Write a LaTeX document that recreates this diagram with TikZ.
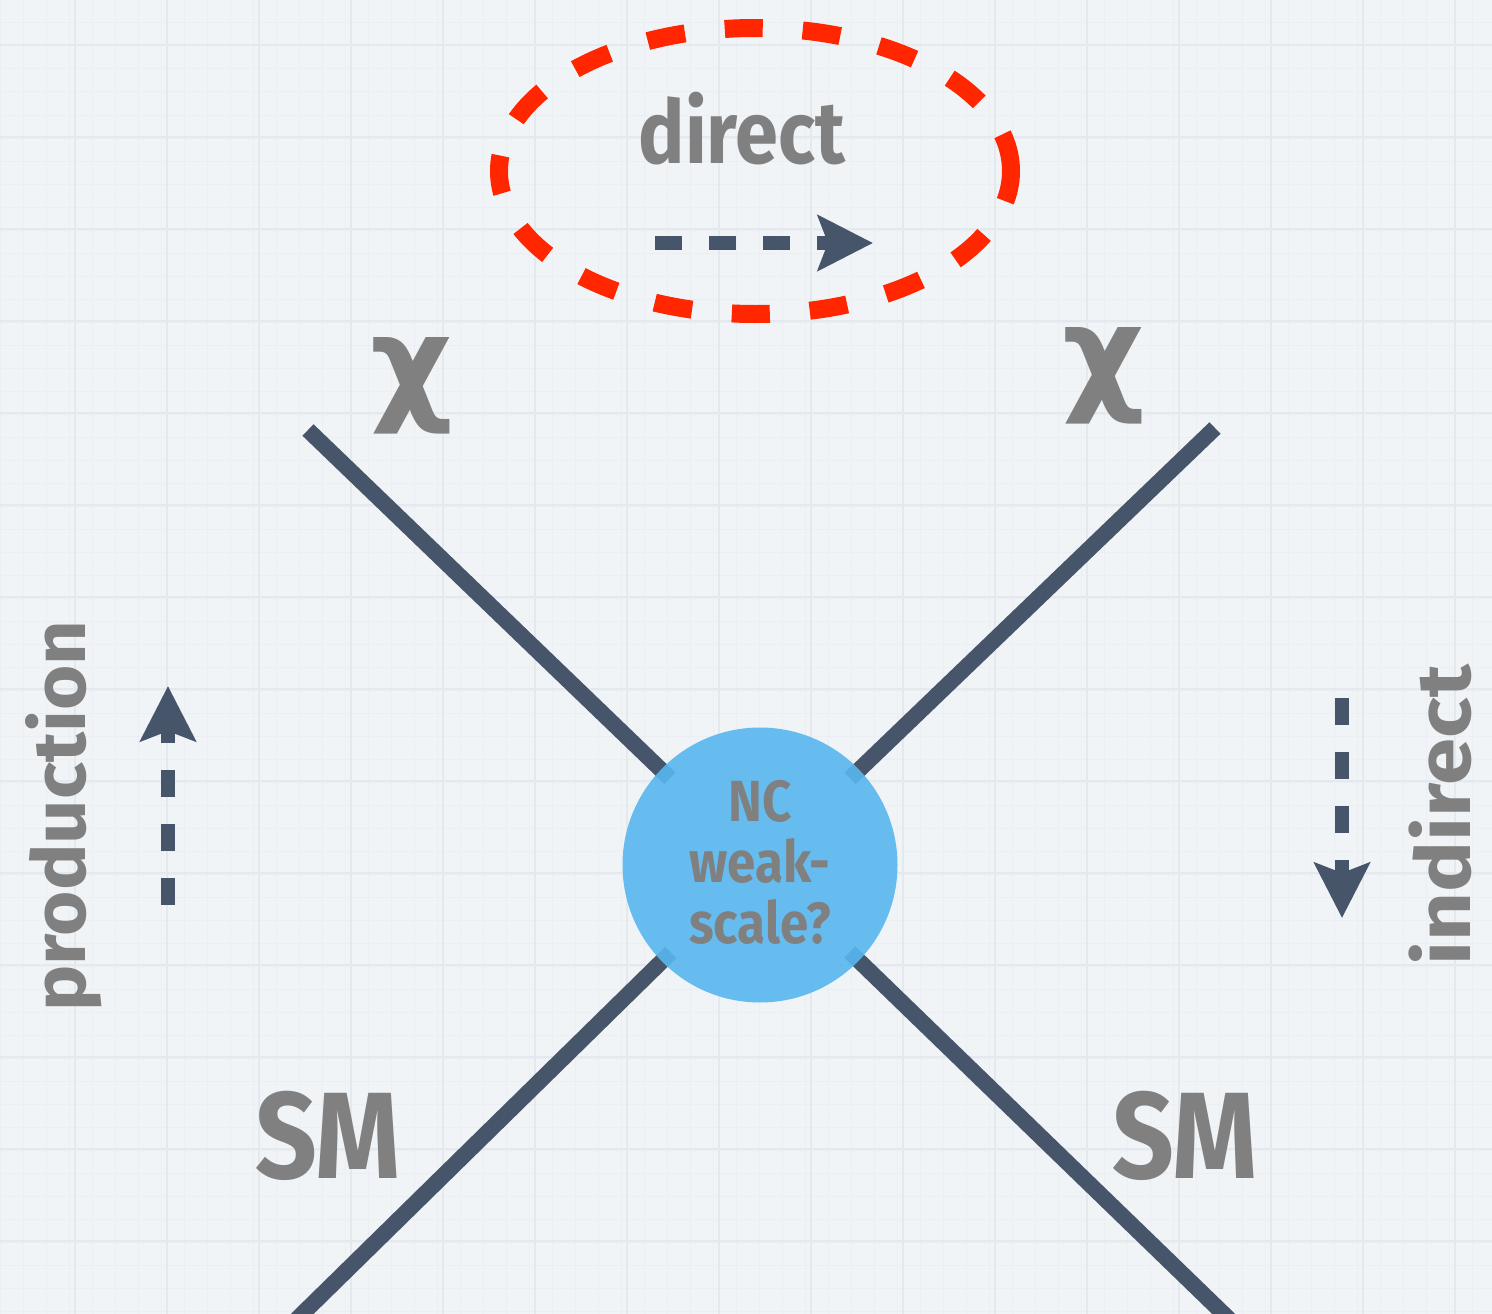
\documentclass[tikz,border=0pt]{standalone}
\usepackage{fontspec}
\setmainfont{Fira Sans}
\newfontfamily\hand[FakeStretch=0.88]{Fira Sans}
\newfontfamily\handwide[FakeStretch=1.05]{Fira Sans}
\newfontfamily\handwider[FakeStretch=1.12]{Fira Sans}
\newfontfamily\chifont{DejaVu Sans}
\usetikzlibrary{arrows.meta,calc}
\definecolor{bg}{RGB}{240,244,247}
\definecolor{gridc}{RGB}{228,233,238}
\definecolor{gridm}{RGB}{235,239,243}
\definecolor{slate}{RGB}{71,85,107}
\definecolor{sky}{RGB}{88,183,238}
\definecolor{txt}{RGB}{128,128,128}
\definecolor{redd}{RGB}{255,38,0}
\begin{document}
\begin{tikzpicture}[x=1pt,y=-1pt,
  lab/.style={text=txt, inner sep=0pt},
  leg/.style={slate, line width=16pt},
  darr/.style={slate, line width=14pt, dash pattern=on 27pt off 27pt,
    -{Stealth[length=55pt,width=55pt,inset=10pt]}},
  oval/.style={redd, line width=18pt, dash pattern=on 38pt off 40pt}]
\clip (0,0) rectangle (1492,1314);
\fill[bg] (0,0) rectangle (1492,1314);
% background grid
\foreach \i in {0,...,65} {
  \draw[gridm, line width=1pt] (\i*23,0) -- (\i*23,1314);
  \draw[gridm, line width=1pt] (0,\i*23) -- (1492,\i*23);
}
\foreach \i in {0,...,16} {
  \draw[gridc, line width=2pt] (75+\i*92,0) -- (75+\i*92,1314);
  \draw[gridc, line width=2pt] (0,45+\i*92) -- (1492,45+\i*92);
}
% dashed red oval
\draw[oval] (755,171) ellipse [x radius=256pt, y radius=143pt];
% legs
\coordinate (ul) at (308,430);
\coordinate (ur) at (1215,428);
\coordinate (ll) at (294,1322);
\coordinate (lr) at (1232,1322);
\coordinate (cc) at (760,865);
\draw[leg] (ul) -- ($(cc)!125pt!(ul)$);
\draw[leg] (ur) -- ($(cc)!125pt!(ur)$);
\draw[leg] (ll) -- ($(cc)!125pt!(ll)$);
\draw[leg] (lr) -- ($(cc)!125pt!(lr)$);
% central blob
\node[circle, fill=sky, fill opacity=0.9, minimum size=275pt, inner sep=0pt] (c) at (cc) {};
\node[lab, align=center, font=\hand\bfseries\fontsize{58}{61}\selectfont] (nc) at (760,862) {NC\\weak-\\scale?};
% labels
\node[lab, anchor=base, font=\hand\bfseries\fontsize{88}{90}\selectfont] (direct) at (742,163) {direct};
\node[lab, font=\chifont\bfseries\fontsize{128}{128}\selectfont] (chiL) at (412,386) {χ};
\node[lab, font=\chifont\bfseries\fontsize{128}{128}\selectfont] (chiR) at (1104,376) {χ};
\node[lab, anchor=base, font=\hand\bfseries\fontsize{123}{123}\selectfont] (smL) at (328,1178) {SM};
\node[lab, anchor=base, font=\hand\bfseries\fontsize{123}{123}\selectfont] (smR) at (1185,1178) {SM};
\node[lab, rotate=90, font=\handwide\bfseries\fontsize{74}{74}\selectfont] (prod) at (64,816) {production};
\node[lab, rotate=90, font=\handwider\bfseries\fontsize{76}{76}\selectfont] (ind) at (1440,815) {indirect};
% dashed arrows
\coordinate (da) at (655,243);
\coordinate (db) at (873,243);
\coordinate (pa) at (168,905);
\coordinate (pb) at (168,686);
\coordinate (ia) at (1342,698);
\coordinate (ib) at (1342,918);
\draw[darr] (da) -- (db);
\draw[darr] (pa) -- (pb);
\draw[darr] (ia) -- (ib);
\end{tikzpicture}
\end{document}
